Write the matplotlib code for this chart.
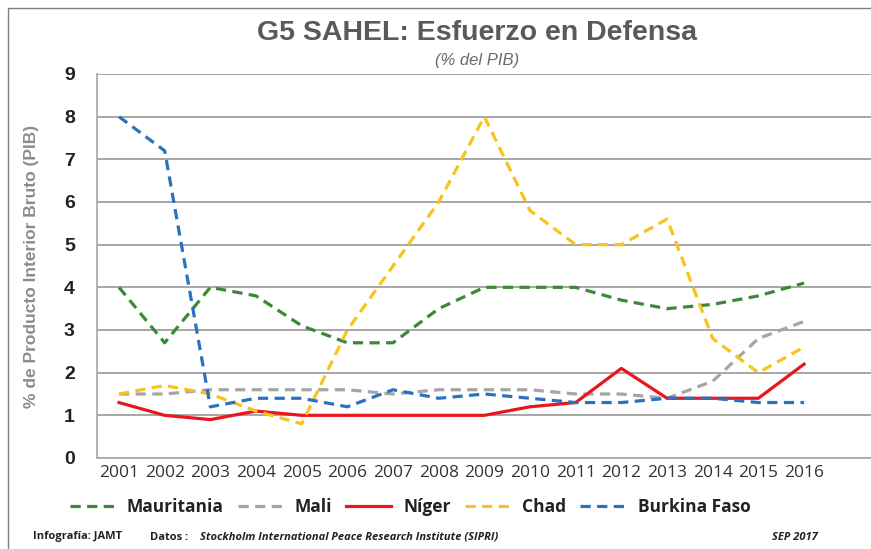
import matplotlib.pyplot as plt
from matplotlib.patches import Rectangle

# ======================
# DATOS
# ======================
years = list(range(2001, 2017))
mauritania = [4.0, 2.7, 4.0, 3.8, 3.1, 2.7, 2.7, 3.5, 4.0, 4.0, 4.0, 3.7, 3.5, 3.6, 3.8, 4.1]
mali = [1.5, 1.5, 1.6, 1.6, 1.6, 1.6, 1.5, 1.6, 1.6, 1.6, 1.5, 1.5, 1.4, 1.8, 2.8, 3.2]
niger = [1.3, 1.0, 0.9, 1.1, 1.0, 1.0, 1.0, 1.0, 1.0, 1.2, 1.3, 2.1, 1.4, 1.4, 1.4, 2.2]
chad = [1.5, 1.7, 1.5, 1.1, 0.8, 3.0, 4.5, 6.0, 8.0, 5.8, 5.0, 5.0, 5.6, 2.8, 2.0, 2.6]
burkina = [8.0, 7.2, 1.2, 1.4, 1.4, 1.2, 1.6, 1.4, 1.5, 1.4, 1.3, 1.3, 1.4, 1.4, 1.3, 1.3]

series = [
    ("Mauritania", mauritania, "#3a8a34", "--"),
    ("Mali", mali, "#a5a5a5", "--"),
    ("Níger", niger, "#e8161d", "-"),
    ("Chad", chad, "#f7c31c", "--"),
    ("Burkina Faso", burkina, "#2a72c0", "--"),
]

narrow = ["Liberation Sans Narrow", "Liberation Sans", "DejaVu Sans"]
calib = ["Open Sans", "DejaVu Sans"]

fig = plt.figure(figsize=(8.71, 5.49), dpi=100)
ax = fig.add_axes([97/871, 1-458/549, 1-97/871, (458-74)/549])

for name, vals, col, ls in series:
    if ls == "--":
        ax.plot(years, vals, color=col, linewidth=2.3, linestyle=(0, (3.2, 2.0)), label=name)
    else:
        ax.plot(years, vals, color=col, linewidth=2.3, linestyle=ls, label=name)

ax.set_xlim(2001 - 22/45.67, 2001 + (871-119)/45.67)
ax.set_ylim(0, 9)
ax.set_yticks(range(0, 10))
ax.set_xticks(years)
ax.set_xticklabels([str(y) for y in years], family=calib, fontsize=12.5, color="#333333")
ax.set_yticklabels([str(v) for v in range(0, 10)], family=["Liberation Sans", "DejaVu Sans"],
                   fontsize=14, fontweight="bold", color="#222222")
ax.tick_params(axis="both", length=0)
ax.tick_params(axis="y", pad=16)
ax.tick_params(axis="x", pad=5)
ax.grid(axis="y", color="#a6a6a6", linewidth=1.4)
ax.set_axisbelow(True)
for s in ["top", "right"]:
    ax.spines[s].set_visible(False)
for s in ["left", "bottom"]:
    ax.spines[s].set_color("#a6a6a6")
    ax.spines[s].set_linewidth(1.2)

ax.set_ylabel("% de Producto Interior Bruto (PIB)", family=["Liberation Sans", "DejaVu Sans"],
              fontsize=12.5, fontweight="bold", color="#8c8c8c", labelpad=18)

# titulos
fig.text(477/871, 1-33/549, "G5 SAHEL: Esfuerzo en Defensa", family=narrow,
         fontsize=20.5, fontweight="bold", color="#5a5a5a", ha="center", va="center")
fig.text(477/871, 1-60/549, "(% del PIB)", family=narrow,
         fontsize=12, style="italic", color="#6a6a6a", ha="center", va="center")

# leyenda
leg = fig.legend(loc="center", bbox_to_anchor=(410/871, 1-507/549), ncol=5, frameon=False,
                 prop={"family": calib, "size": 12.5, "weight": "bold"},
                 handlelength=2.6, columnspacing=0.8, handletextpad=0.7)
for t in leg.get_texts():
    t.set_color("#222222")

# pie
fig.text(33/871, 1-537/549, "Infografía: JAMT", family=calib, fontsize=8,
         fontweight="bold", color="#222222", va="center")
fig.text(150/871, 1-537/549, "Datos : ", family=calib, fontsize=8,
         fontweight="bold", color="#222222", va="center")
fig.text(200/871, 1-537/549, "Stockholm International Peace Research Institute (SIPRI)",
         family=calib, fontsize=8, fontweight="bold", style="italic", color="#222222", va="center")
fig.text(818/871, 1-537/549, "SEP 2017", family=calib, fontsize=8,
         fontweight="bold", style="italic", color="#222222", va="center", ha="right")

# marco
fig.patches.append(Rectangle((8/871, -0.1), 1.2, 1.1 - 8/549, transform=fig.transFigure,
                             fill=False, edgecolor="#7f7f7f", linewidth=1.0))

fig.savefig("out.png", dpi=100)
